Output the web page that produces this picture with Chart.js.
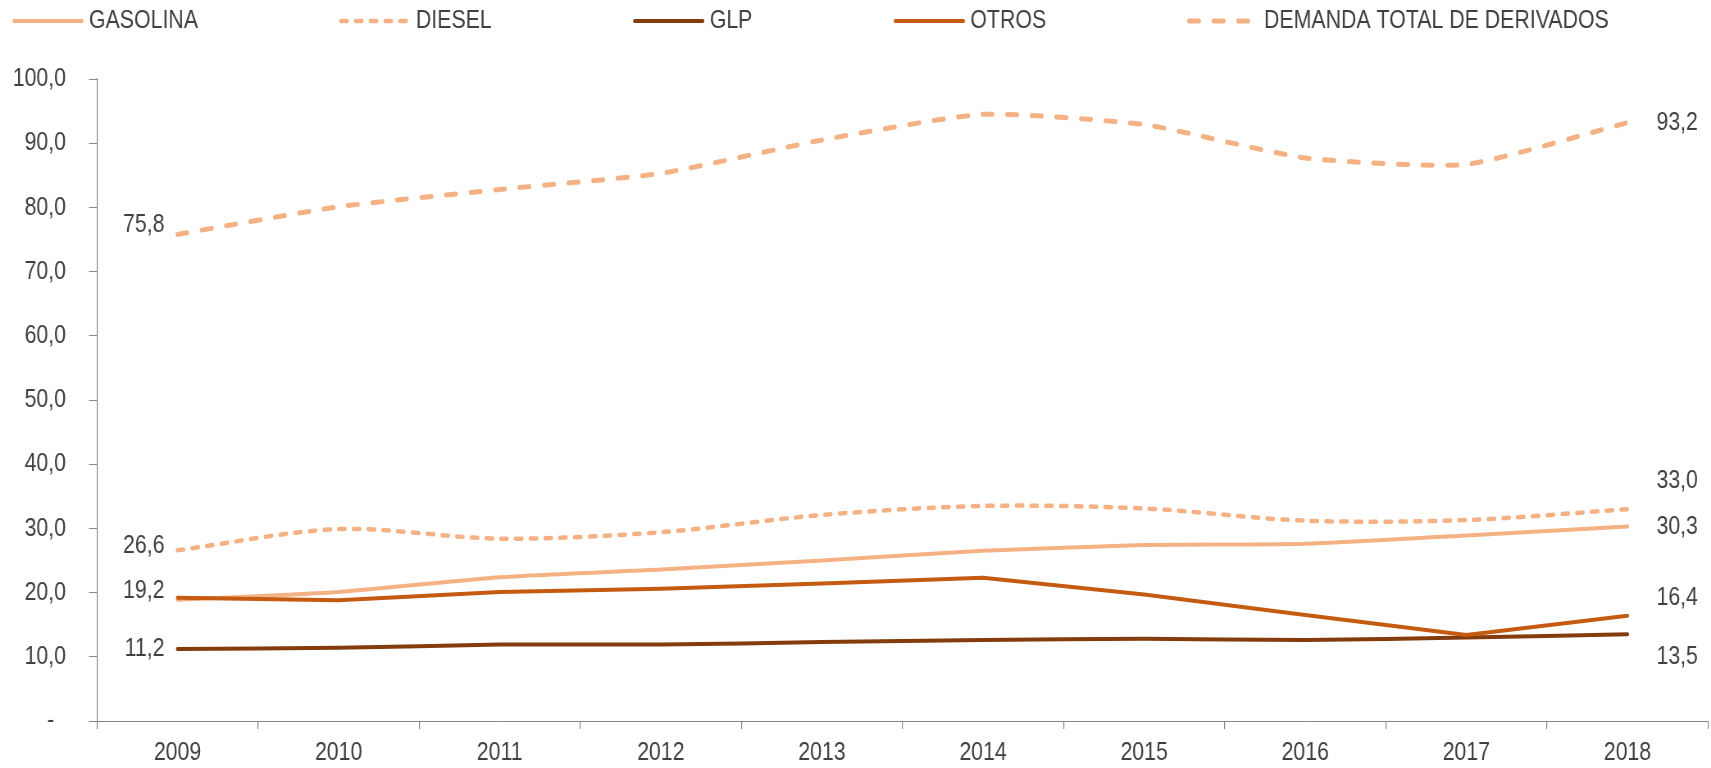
<!DOCTYPE html>
<html>
<head>
<meta charset="utf-8">
<script src="https://cdn.jsdelivr.net/npm/chart.js@4.4.0/dist/chart.umd.min.js"></script>
<style>
  html, body { margin: 0; padding: 0; background: #fff; overflow: hidden; }
  #demanda { display: block; width: 1711px; height: 768px; }
</style>
</head>
<body>
<canvas id="demanda" style="width:1711px;height:768px"></canvas>
<script>
'use strict';

// demanda de derivados, 2009-2018
const years = ['2009', '2010', '2011', '2012', '2013', '2014', '2015', '2016', '2017', '2018'];
const gasolina = [18.9, 20.1, 22.4, 23.6, 25.0, 26.5, 27.4, 27.6, 28.9, 30.3];
const diesel = [26.6, 29.9, 28.4, 29.4, 32.1, 33.5, 33.1, 31.2, 31.3, 33.0];
const glp = [11.2, 11.4, 11.9, 11.9, 12.3, 12.6, 12.8, 12.6, 13.0, 13.5];
const otros = [19.2, 18.8, 20.1, 20.6, 21.4, 22.3, 19.7, 16.5, 13.4, 16.4];
const demandaTotal = [75.8, 80.1, 82.8, 85.3, 90.5, 94.5, 92.9, 87.7, 86.7, 93.2];

// the original uses a narrow font: draw on a wider canvas and squeeze it back with css
const SQUEEZE = 0.82;
const px = v => v / SQUEEZE;

const FONT = '"Liberation Sans Narrow", "Arial Narrow", "Liberation Sans", Arial, sans-serif';
const TEXT = '#404040';
const AXIS = '#868686';

// vertical nudges for the first / last value labels (null = no label)
const labelShift = {
  'GASOLINA': [null, 0],
  'DIESEL': [-4, -28],
  'GLP': [0, 22],
  'OTROS': [-7, -18],
  'DEMANDA TOTAL DE DERIVADOS': [-10, 0]
};

function fmt(v) {
  return v.toFixed(1).replace('.', ',');
}

const lineLegend = {
  id: 'lineLegend',
  afterDraw(chart) {
    const ctx = chart.ctx;
    ctx.save();
    ctx.font = '26px ' + FONT;
    ctx.textBaseline = 'middle';
    ctx.textAlign = 'left';
    let x = px(14);
    const y = 21;
    chart.data.datasets.forEach(ds => {
      ctx.strokeStyle = ds.borderColor;
      ctx.lineWidth = ds.borderWidth;
      ctx.lineCap = 'round';
      ctx.setLineDash(ds.borderDash || []);
      ctx.beginPath();
      ctx.moveTo(x, y);
      ctx.lineTo(x + px(68), y);
      ctx.stroke();
      ctx.setLineDash([]);
      ctx.fillStyle = TEXT;
      ctx.fillText(ds.label, x + px(75), y);
      x += px(75) + ctx.measureText(ds.label).width + px(143);
    });
    ctx.restore();
  }
};

const endLabels = {
  id: 'endLabels',
  afterDatasetsDraw(chart) {
    const ctx = chart.ctx;
    ctx.save();
    ctx.font = '26px ' + FONT;
    ctx.fillStyle = TEXT;
    ctx.textBaseline = 'middle';
    chart.data.datasets.forEach((ds, i) => {
      const pts = chart.getDatasetMeta(i).data;
      const last = ds.data.length - 1;
      const shift = labelShift[ds.label];
      if (shift[0] !== null) {
        ctx.textAlign = 'right';
        ctx.fillText(fmt(ds.data[0]), pts[0].x - px(13), pts[0].y + shift[0]);
      }
      ctx.textAlign = 'left';
      ctx.fillText(fmt(ds.data[last]), pts[last].x + px(29), pts[last].y + shift[1]);
    });
    ctx.restore();
  }
};

const canvas = document.getElementById('demanda');
canvas.width = Math.round(px(1711));
canvas.height = 768;

new Chart(canvas, {
  type: 'line',
  data: {
    labels: years,
    datasets: [
      { label: 'GASOLINA', data: gasolina, borderColor: '#F4B183', borderWidth: 4, tension: 0.2, order: 2 },
      { label: 'DIESEL', data: diesel, borderColor: '#F4B183', borderWidth: 4.5, borderDash: [7.5, 10.5], tension: 0.3, order: 3 },
      { label: 'GLP', data: glp, borderColor: '#843C0C', borderWidth: 4, tension: 0.2, order: 1 },
      { label: 'OTROS', data: otros, borderColor: '#C55A11', borderWidth: 4, tension: 0, order: 0 },
      { label: 'DEMANDA TOTAL DE DERIVADOS', data: demandaTotal, borderColor: '#F4B183', borderWidth: 5, borderDash: [12, 18], tension: 0.18, order: 4 }
    ]
  },
  options: {
    responsive: false,
    animation: false,
    devicePixelRatio: 1,
    elements: {
      point: { radius: 0, hoverRadius: 0 },
      line: { borderCapStyle: 'round', borderJoinStyle: 'round', fill: false }
    },
    layout: { padding: { left: px(13), right: px(3), top: 79, bottom: 0 } },
    plugins: {
      legend: { display: false },
      tooltip: { enabled: false }
    },
    scales: {
      x: {
        offset: true,
        ticks: { color: TEXT, font: { family: FONT, size: 26 }, padding: 8, maxRotation: 0 },
        grid: { drawOnChartArea: false, tickLength: 8, color: AXIS, offset: true, lineWidth: 1.2 },
        border: { color: AXIS, width: 1 },
        afterFit(s) { s.height = 47; }
      },
      y: {
        min: 0,
        max: 100,
        ticks: {
          stepSize: 10,
          color: TEXT,
          font: { family: FONT, size: 26 },
          padding: px(23),
          callback: v => (v === 0 ? '-  ' : fmt(v))
        },
        grid: { drawOnChartArea: false, tickLength: px(8), color: AXIS },
        border: { color: AXIS, width: 1.2 },
        afterFit(s) { s.width = px(84); }
      }
    }
  },
  plugins: [lineLegend, endLabels]
});
</script>
</body>
</html>
